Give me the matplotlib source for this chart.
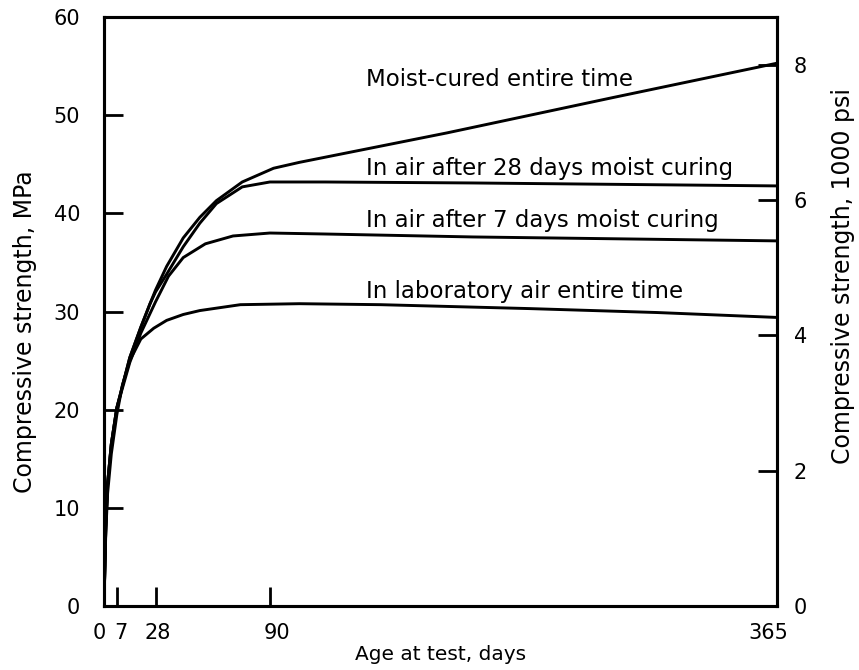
import matplotlib.pyplot as plt
import matplotlib.transforms as mtransforms
import numpy as np

plt.rcParams['font.family'] = ['DejaVu Sans']

# Moist-cured entire time
days_moist = [0, 1, 2, 4, 7, 14, 20, 25, 28, 34, 43, 52, 61, 75, 92, 106, 186, 276, 365]
mpa_moist = [0, 8, 12.5, 16.5, 20.2, 25.3, 28.4, 30.8, 32.2, 34.6, 37.5, 39.6, 41.3, 43.2, 44.6, 45.2, 48.2, 51.8, 55.3]

# In air after 28 days moist curing
days_28 = [0, 1, 2, 4, 7, 14, 20, 25, 28, 34, 43, 52, 61, 75, 90, 120, 200, 365]
mpa_28 = [0, 8, 12.5, 16.5, 20.2, 25.3, 28.4, 30.8, 32.0, 33.8, 36.6, 39.0, 41.0, 42.7, 43.2, 43.2, 43.1, 42.8]

# In air after 7 days moist curing
days_7 = [0, 1, 2, 4, 7, 14, 20, 28, 35, 43, 55, 70, 90, 120, 200, 365]
mpa_7 = [0, 8, 12.5, 16.5, 20.2, 24.8, 27.8, 31.0, 33.6, 35.5, 36.9, 37.7, 38.0, 37.9, 37.6, 37.2]

# In laboratory air entire time
days_air = [0, 1, 2, 4, 7, 10, 14, 20, 27, 34, 43, 52, 74, 106, 150, 231, 300, 365]
mpa_air = [0, 7.5, 11.5, 15.5, 19.5, 22.5, 25.0, 27.2, 28.3, 29.1, 29.7, 30.1, 30.7, 30.8, 30.7, 30.3, 29.9, 29.4]

labels = ['Moist-cured entire time', 'In air after 28 days moist curing',
          'In air after 7 days moist curing', 'In laboratory air entire time']
label_y = [53.6, 44.6, 39.3, 32.0]

x_ticks = [0, 7, 28, 90, 365]
x_shift = [-5, 4, 2, 7, -9]   # small nudges of the typeset labels (px)
y_ticks = [0, 10, 20, 30, 40, 50, 60]
psi_ticks = [0, 2, 4, 6, 8]
MPA_PER_KSI = 6.895

fig = plt.figure(figsize=(8.59, 6.70), dpi=100)
ax = fig.add_axes([0.121, 0.0955, 0.7835, 0.879])

for d, m in [(days_moist, mpa_moist), (days_28, mpa_28), (days_7, mpa_7), (days_air, mpa_air)]:
    ax.plot(d, m, color='black', linewidth=2.1, solid_joinstyle='round')

for txt, yy in zip(labels, label_y):
    ax.text(142, yy, txt, fontsize=16.5, ha='left', va='center')

ax.set_xlim(0, 365)
ax.set_ylim(0, 60)
ax.set_xticks(x_ticks)
ax.set_yticks(y_ticks)
ax.tick_params(axis='both', direction='in', length=14, width=2, labelsize=15)
ax.tick_params(axis='y', pad=17)
ax.tick_params(axis='x', pad=12)
for s in ax.spines.values():
    s.set_linewidth(2.2)

for lab, dx in zip(ax.get_xticklabels(), x_shift):
    lab.set_transform(lab.get_transform() + mtransforms.ScaledTranslation(dx / 100, 0, fig.dpi_scale_trans))

ax.set_xlabel('Age at test, days', fontsize=14.5, labelpad=2)
ax.set_ylabel('Compressive strength, MPa', fontsize=17)
ax.yaxis.set_label_coords(-0.10, 0.466)

ax2 = ax.twinx()
ax2.set_ylim(0, 60 / MPA_PER_KSI)
ax2.set_yticks(psi_ticks)
ax2.tick_params(axis='y', direction='in', length=14, width=2, labelsize=15, pad=12)
for s in ax2.spines.values():
    s.set_linewidth(2.2)
ax2.set_ylabel('Compressive strength, 1000 psi', fontsize=17)
ax2.yaxis.set_label_coords(1.08, 0.56)

fig.savefig('out.png', dpi=100)
